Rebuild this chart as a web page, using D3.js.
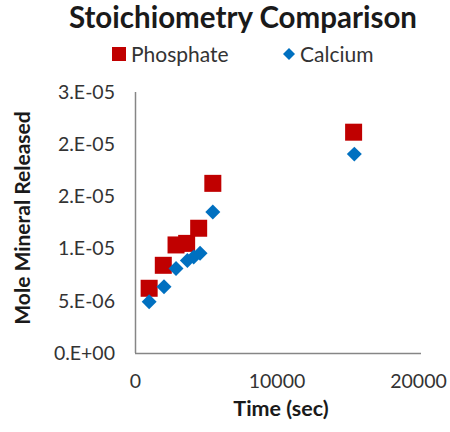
<!DOCTYPE html>
<html>
<head>
<meta charset="utf-8">
<script src="https://cdn.jsdelivr.net/npm/d3@7/dist/d3.min.js"></script>
<style>
  html, body { margin: 0; padding: 0; background: #fff; }
  svg text { font-family: Lato, "Open Sans", sans-serif; }
</style>
</head>
<body>
<svg id="chart" width="450" height="432"></svg>
<script>
// Dissolution time points (s) and moles of mineral released
const phosphateTime  = [1000, 2000, 2900, 3650, 4500, 5500, 15450];
const phosphateMoles = [6.2e-6, 8.4e-6, 1.035e-5, 1.05e-5, 1.195e-5, 1.625e-5, 2.115e-5];
const calciumTime    = [1000, 2050, 2900, 3700, 4150, 4600, 5500, 15500];
const calciumMoles   = [4.9e-6, 6.35e-6, 8.1e-6, 8.85e-6, 9.2e-6, 9.55e-6, 1.35e-5, 1.905e-5];

const xTicks = [0, 10000, 20000];
const yTicks = [0, 5e-6, 1e-5, 1.5e-5, 2e-5, 2.5e-5];
const yTickLabels = ["0.E+00", "5.E-06", "1.E-05", "2.E-05", "2.E-05", "3.E-05"];

const seriesNames = ["Phosphate", "Calcium"];
const seriesColors = ["#C00000", "#0070C0"];

const svg = d3.select("#chart");
const plot = { left: 135, right: 418, top: 92, bottom: 353 };

const x = d3.scaleLinear().domain([0, 20000]).range([plot.left, plot.right]);
const y = d3.scaleLinear().domain([0, 2.5e-5]).range([plot.bottom, plot.top]);

// Axes (no tick marks, Excel-style)
const xAxis = d3.axisBottom(x).tickValues(xTicks).tickSize(0).tickPadding(21)
  .tickFormat(d3.format("d"));
const yAxis = d3.axisLeft(y).tickValues(yTicks).tickSize(0).tickPadding(20)
  .tickFormat((d, i) => yTickLabels[i]);

const gx = svg.append("g").attr("transform", `translate(0,${plot.bottom})`).call(xAxis);
const gy = svg.append("g").attr("transform", `translate(${plot.left},0)`).call(yAxis);

[gx, gy].forEach(g => {
  g.select(".domain").attr("stroke", "#868686").attr("stroke-width", 1.5);
  g.selectAll("text").attr("fill", "#333").style("font-size", "19.5px");
});
gx.select(".domain").attr("d", `M${plot.left},0.5H${plot.right + 3}`);
gy.select(".domain").attr("d", `M0.5,${plot.top}V${plot.bottom}`);

// Markers: squares for phosphate, diamonds for calcium
const phosphate = phosphateTime.map((t, i) => ({ t, m: phosphateMoles[i] }));
const calcium = calciumTime.map((t, i) => ({ t, m: calciumMoles[i] }));

const sq = 17;
svg.append("g").selectAll("rect").data(phosphate).join("rect")
  .attr("x", d => x(d.t) - sq / 2)
  .attr("y", d => y(d.m) - sq / 2)
  .attr("width", sq).attr("height", sq)
  .attr("fill", seriesColors[0]);

const diamond = d3.symbol().type(d3.symbolSquare).size(112);
svg.append("g").selectAll("path").data(calcium).join("path")
  .attr("d", diamond)
  .attr("transform", d => `translate(${x(d.t)},${y(d.m)}) rotate(45)`)
  .attr("fill", seriesColors[1]);

// Title
svg.append("text")
  .attr("x", 243).attr("y", 28)
  .attr("text-anchor", "middle")
  .attr("fill", "#1a1a1a")
  .style("font-size", "29.5px").style("font-weight", "bold")
  .text("Stoichiometry Comparison");

// Legend
const legend = svg.append("g");
legend.append("rect").attr("x", 112).attr("y", 47).attr("width", 14).attr("height", 14)
  .attr("fill", seriesColors[0]);
legend.append("text").attr("x", 131).attr("y", 62)
  .attr("fill", "#333").style("font-size", "21px").text(seriesNames[0]);
legend.append("path")
  .attr("d", d3.symbol().type(d3.symbolSquare).size(72))
  .attr("transform", "translate(289,54) rotate(45)")
  .attr("fill", seriesColors[1]);
legend.append("text").attr("x", 300).attr("y", 62)
  .attr("fill", "#333").style("font-size", "21px").text(seriesNames[1]);

// Axis titles
svg.append("text")
  .attr("x", 281).attr("y", 416)
  .attr("text-anchor", "middle")
  .attr("fill", "#1a1a1a")
  .style("font-size", "21.5px").style("font-weight", "bold")
  .text("Time (sec)");

svg.append("text")
  .attr("transform", "translate(30,218) rotate(-90)")
  .attr("text-anchor", "middle")
  .attr("fill", "#1a1a1a")
  .style("font-size", "21px").style("font-weight", "bold")
  .text("Mole Mineral Released");
</script>
</body>
</html>
